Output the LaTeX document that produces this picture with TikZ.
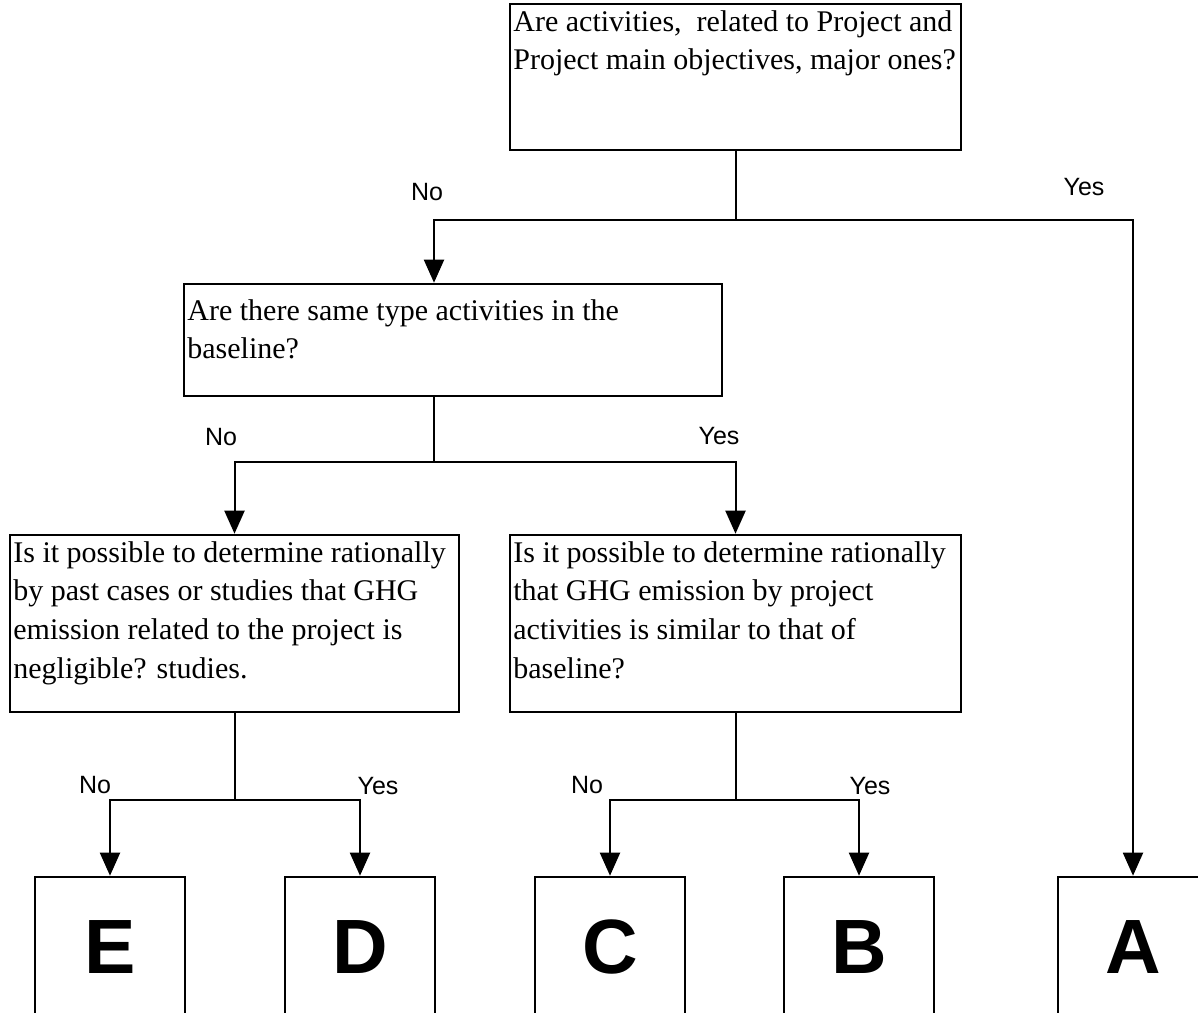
\documentclass[tikz,border=0pt]{standalone}
\usepackage{fontspec}
\setmainfont{Liberation Serif}
\newfontfamily\sffont{Liberation Sans}
\usetikzlibrary{arrows.meta}
\tikzset{
  qbox/.style={draw, line width=1.3pt, rectangle, inner sep=0pt},
  qtext/.style={font=\fontsize{15pt}{19.3pt}\selectfont, align=left, inner sep=0pt, anchor=north west},
  ansbox/.style={draw, line width=1.3pt, rectangle, inner sep=0pt, minimum width=75pt, minimum height=70pt,
    font=\sffont\bfseries\fontsize{38.5pt}{40pt}\selectfont},
  lab/.style={font=\sffont\fontsize{12.5pt}{14pt}\selectfont, inner sep=0pt},
  conn/.style={line width=1pt},
  arr/.style={line width=1pt, -{Triangle[width=10pt,length=11.5pt]}}
}
\begin{document}
\begin{tikzpicture}[x=0.5pt,y=-0.5pt]
\useasboundingbox[fill=white] (0,0) rectangle (1198,1012);
\clip (0,0) rectangle (1198,1012);
% question boxes
\node[qbox, minimum width=225.5pt, minimum height=73pt] (q1) at (735.5,77) {};
\node[qtext] (q1t) at (513,10) {Are activities,\ \ related to Project and\\Project main objectives, major ones?};
\node[qbox, minimum width=269pt, minimum height=56pt] (q2) at (453,340) {};
\node[qtext] (q2t) at (187,299) {Are there same type activities in the\\baseline?};
\node[qbox, minimum width=224.5pt, minimum height=88.5pt] (q3a) at (234.5,623.5) {};
\node[qtext] (q3at) at (13,541) {Is it possible to determine rationally\\by past cases or studies that GHG\\emission related to the project is\\negligible? studies.};
\node[qbox, minimum width=225.5pt, minimum height=88.5pt] (q3b) at (735.5,623.5) {};
\node[qtext] (q3bt) at (513,541) {Is it possible to determine rationally\\that GHG emission by project\\activities is similar to that of\\baseline?};
% answer boxes
\node[ansbox] (bE) at (110,947) {E};
\node[ansbox] (bD) at (360,947) {D};
\node[ansbox] (bC) at (610,947) {C};
\node[ansbox] (bB) at (859,947) {B};
\node[ansbox] (bA) at (1133,947) {A};
% connectors
\coordinate (j1) at (735.5,220);
\coordinate (j2) at (434,462);
\coordinate (j3a) at (234.5,800);
\coordinate (j3b) at (735.5,800);
\draw[conn] (q1.south) -- (j1);
\draw[arr] (j1) -| (q2.north -| j2);
\draw[arr] (j1) -| (bA.north);
\draw[conn] (q2.south -| j2) -- (j2);
\draw[arr] (j2) -| (q3a.north);
\draw[arr] (j2) -| (q3b.north);
\draw[conn] (q3a.south) -- (j3a);
\draw[arr] (j3a) -| (bE.north);
\draw[arr] (j3a) -| (bD.north);
\draw[conn] (q3b.south) -- (j3b);
\draw[arr] (j3b) -| (bC.north);
\draw[arr] (j3b) -| (bB.north);
% labels
\node[lab] (l1n) at (427,192) {No};
\node[lab] (l1y) at (1084,187) {Yes};
\node[lab] (l2n) at (221,437) {No};
\node[lab] (l2y) at (719,436) {Yes};
\node[lab] (l3n) at (95,785) {No};
\node[lab] (l3y) at (378,786) {Yes};
\node[lab] (l4n) at (587,785) {No};
\node[lab] (l4y) at (870,786) {Yes};
\end{tikzpicture}
\end{document}
